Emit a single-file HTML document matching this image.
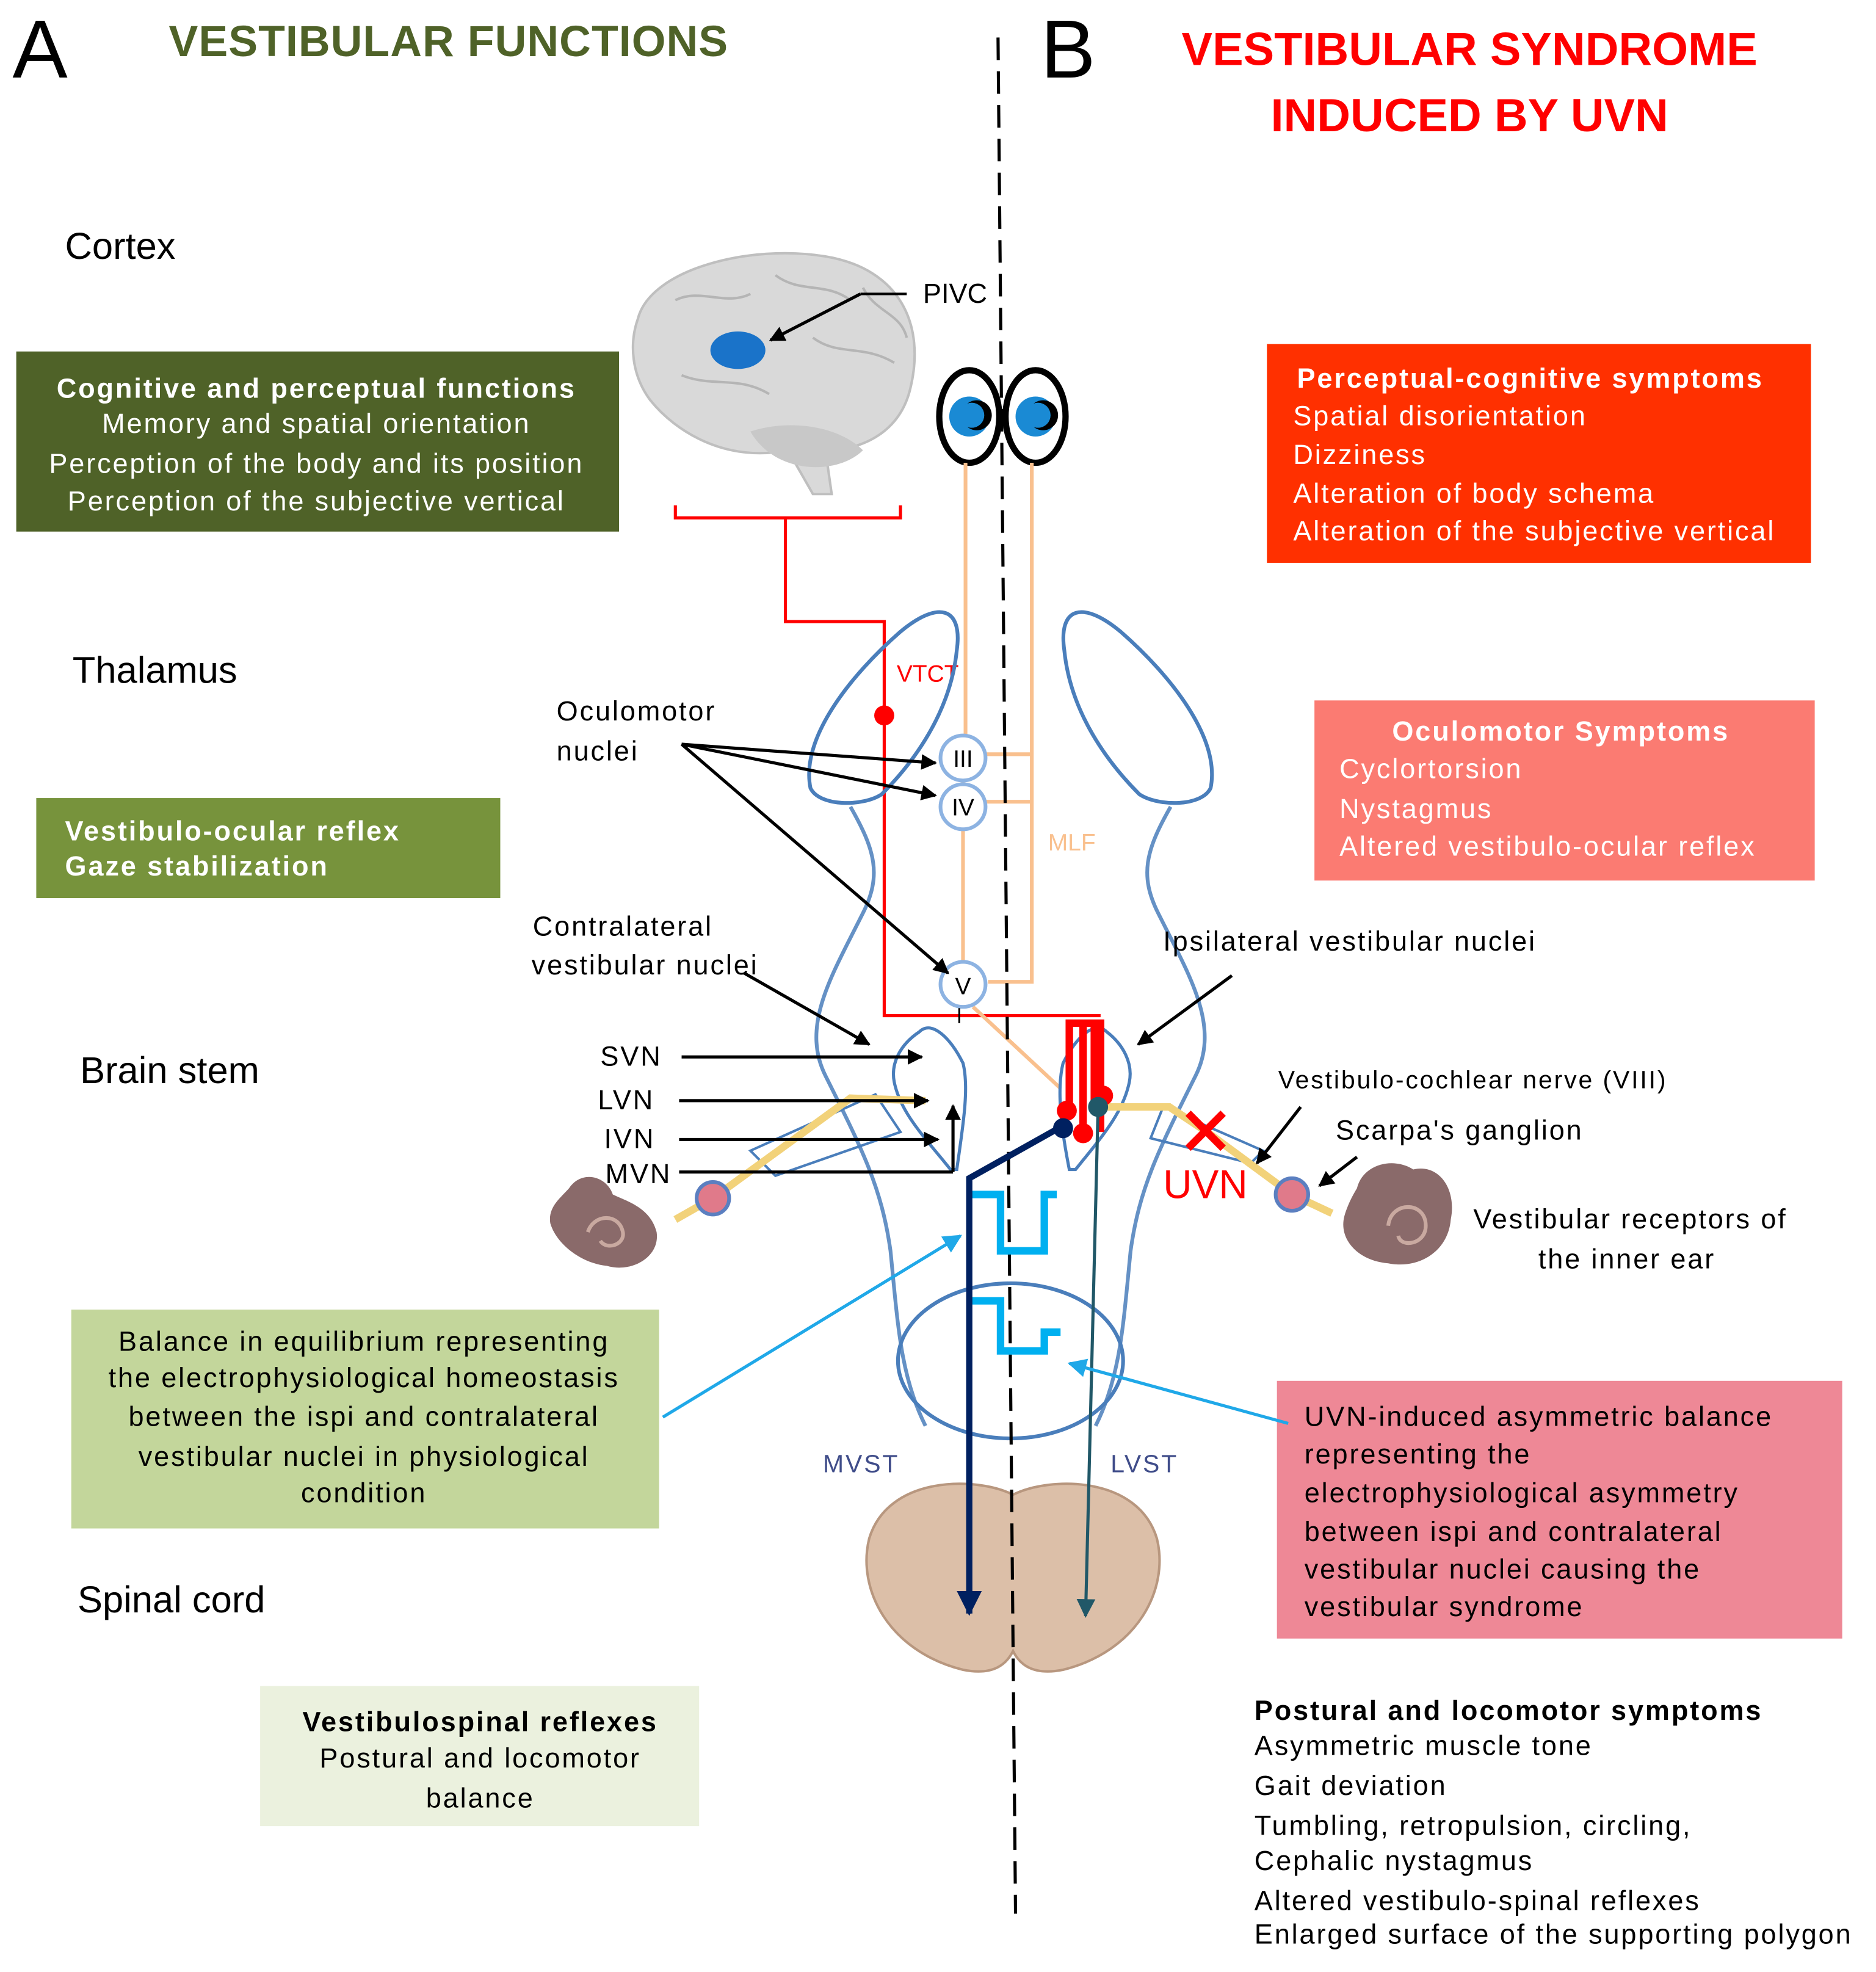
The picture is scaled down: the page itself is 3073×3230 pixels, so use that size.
<!DOCTYPE html>
<html><head><meta charset="utf-8"><style>
html,body{margin:0;padding:0;background:#fff;}
svg{display:block;}
text{font-family:"Liberation Sans",sans-serif;}
.t{letter-spacing:1.4px;}
</style></head><body>
<svg width="3073" height="3230" viewBox="0 0 1500 1576.6" preserveAspectRatio="none" xmlns="http://www.w3.org/2000/svg">
<defs>
<marker id="ab" viewBox="0 0 10 10" refX="9" refY="5" markerWidth="5" markerHeight="5" orient="auto"><path d="M0,0L10,5L0,10z" fill="#000"/></marker>
<marker id="abl" viewBox="0 0 10 10" refX="9" refY="5" markerWidth="6" markerHeight="6" orient="auto"><path d="M0,0L10,5L0,10z" fill="#1fa8e8"/></marker>
<marker id="an" viewBox="0 0 10 10" refX="9" refY="5" markerWidth="4" markerHeight="4" orient="auto"><path d="M0,0L10,5L0,10z" fill="#002060"/></marker>
<marker id="at" viewBox="0 0 10 10" refX="9" refY="5" markerWidth="6" markerHeight="6" orient="auto"><path d="M0,0L10,5L0,10z" fill="#215868"/></marker>
</defs>

<text x="10" y="62" font-size="66">A</text>
<text x="135" y="45" font-size="35" font-weight="bold" fill="#4f6228" letter-spacing="0.5">VESTIBULAR FUNCTIONS</text>
<text x="832" y="62" font-size="66">B</text>
<text x="1175" y="52" font-size="37" font-weight="bold" fill="#ff0000" text-anchor="middle">VESTIBULAR SYNDROME</text>
<text x="1175" y="105" font-size="37" font-weight="bold" fill="#ff0000" text-anchor="middle">INDUCED BY UVN</text>

<text x="52" y="207" font-size="30">Cortex</text>
<text x="58" y="546" font-size="30">Thalamus</text>
<text x="64" y="866" font-size="30">Brain stem</text>
<text x="62" y="1289" font-size="30">Spinal cord</text>

<rect x="13" y="281" width="482" height="144" fill="#4f6228"/>
<g fill="#fff" font-size="22" text-anchor="middle" class="t">
<text x="253" y="318" font-weight="bold">Cognitive and perceptual functions</text>
<text x="253" y="346">Memory and spatial orientation</text>
<text x="253" y="378">Perception of the body and its position</text>
<text x="253" y="408">Perception of the subjective vertical</text>
</g>
<rect x="29" y="638" width="371" height="80" fill="#77933c"/>
<text x="52" y="672" font-size="22" font-weight="bold" fill="#fff" class="t">Vestibulo-ocular reflex</text>
<text x="52" y="700" font-size="22" font-weight="bold" fill="#fff" class="t">Gaze stabilization</text>
<rect x="57" y="1047" width="470" height="175" fill="#c3d69b"/>
<g font-size="22" text-anchor="middle" class="t">
<text x="291" y="1080">Balance in equilibrium representing</text>
<text x="291" y="1109">the electrophysiological homeostasis</text>
<text x="291" y="1140">between the ispi and contralateral</text>
<text x="291" y="1172">vestibular nuclei in physiological</text>
<text x="291" y="1201">condition</text>
</g>
<rect x="208" y="1348" width="351" height="112" fill="#ebf1de"/>
<g font-size="22" text-anchor="middle" class="t">
<text x="384" y="1384" font-weight="bold">Vestibulospinal reflexes</text>
<text x="384" y="1413">Postural and locomotor</text>
<text x="384" y="1445">balance</text>
</g>

<rect x="1013" y="275" width="435" height="175" fill="#ff3000"/>
<g fill="#fff" font-size="22" class="t">
<text x="1037" y="310" font-weight="bold">Perceptual-cognitive symptoms</text>
<text x="1034" y="340">Spatial disorientation</text>
<text x="1034" y="371">Dizziness</text>
<text x="1034" y="402">Alteration of body schema</text>
<text x="1034" y="432">Alteration of the subjective vertical</text>
</g>
<rect x="1051" y="560" width="400" height="144" fill="#fb7b72"/>
<g fill="#fff" font-size="22" class="t">
<text x="1248" y="592" font-weight="bold" text-anchor="middle">Oculomotor Symptoms</text>
<text x="1071" y="622">Cyclortorsion</text>
<text x="1071" y="654">Nystagmus</text>
<text x="1071" y="684">Altered vestibulo-ocular reflex</text>
</g>
<rect x="1021" y="1104" width="452" height="206" fill="#ee8896"/>
<g font-size="22" class="t">
<text x="1043" y="1140">UVN-induced asymmetric balance</text>
<text x="1043" y="1170">representing the</text>
<text x="1043" y="1201">electrophysiological asymmetry</text>
<text x="1043" y="1232">between ispi and contralateral</text>
<text x="1043" y="1262">vestibular nuclei causing the</text>
<text x="1043" y="1292">vestibular syndrome</text>
</g>
<g font-size="22" class="t">
<text x="1003" y="1375" font-weight="bold">Postural and locomotor symptoms</text>
<text x="1003" y="1403">Asymmetric muscle tone</text>
<text x="1003" y="1435">Gait deviation</text>
<text x="1003" y="1467">Tumbling, retropulsion, circling,</text>
<text x="1003" y="1495">Cephalic nystagmus</text>
<text x="1003" y="1527">Altered vestibulo-spinal reflexes</text>
<text x="1003" y="1554">Enlarged surface of the supporting polygon</text>
</g>

<path d="M510,255 C520,215 600,195 660,205 C720,215 740,260 728,310 C720,345 690,360 660,360 L665,395 L650,395 L630,360 C580,370 540,345 520,320 C505,300 503,275 510,255z" fill="#d9d9d9" stroke="#bfbfbf" stroke-width="2"/>
<path d="M600,345 C630,335 670,340 690,360 C670,380 620,380 600,345z" fill="#c8c8c8"/>
<g fill="none" stroke="#b5b5b5" stroke-width="2">
<path d="M540,240 C560,230 580,245 600,235 M620,220 C640,235 660,225 680,240 M545,300 C570,310 590,300 615,315 M650,270 C670,285 690,275 715,290 M690,230 C700,250 720,250 725,270"/>
</g>
<ellipse cx="590" cy="280" rx="22" ry="15" fill="#1a73c9"/>
<line x1="725" y1="235" x2="688" y2="235" stroke="#000" stroke-width="2"/>
<line x1="688" y1="235" x2="616" y2="272" stroke="#000" stroke-width="2.5" marker-end="url(#ab)"/>
<text x="738" y="242" font-size="22">PIVC</text>

<path d="M540,404 V414 H720 V404 M628,414 V497 H707 V812 H880" fill="none" stroke="#ff0000" stroke-width="2.5"/>
<circle cx="707" cy="572" r="8" fill="#ff0000"/>
<text x="717" y="545" font-size="19" fill="#ff0000">VTCT</text>

<path d="M648,630 C640,590 680,540 720,505 C750,480 770,485 765,520 C760,570 730,610 705,635 C690,645 655,645 648,630z" fill="none" stroke="#4a7ebb" stroke-width="3"/>
<path d="M968,630 C976,590 936,540 896,505 C866,480 846,485 851,520 C856,570 886,610 911,635 C926,645 961,645 968,630z" fill="none" stroke="#4a7ebb" stroke-width="3"/>
<path d="M680,645 C700,680 705,700 690,730 C665,780 640,820 660,860 C690,920 705,950 712,1000 C718,1060 720,1100 740,1140" fill="none" stroke="#4a7ebb" stroke-width="3" opacity="0.85"/>
<path d="M936,645 C916,680 911,700 926,730 C951,780 976,820 956,860 C926,920 911,950 904,1000 C898,1060 896,1100 876,1140" fill="none" stroke="#4a7ebb" stroke-width="3" opacity="0.85"/>
<ellipse cx="808" cy="1088" rx="90" ry="62" fill="none" stroke="#4a7ebb" stroke-width="3"/>
<path d="M810,1195 C780,1180 710,1180 695,1230 C685,1270 710,1320 770,1335 C795,1340 805,1330 810,1320 C815,1330 825,1340 850,1335 C910,1320 935,1270 925,1230 C910,1180 840,1180 810,1195z" fill="#dcbfa8" stroke="#b8977f" stroke-width="2"/>

<g stroke="#000" stroke-width="5" fill="#fff">
<ellipse cx="775" cy="333" rx="24" ry="37"/>
<ellipse cx="828" cy="333" rx="24" ry="37"/>
</g>
<circle cx="775" cy="333" r="16" fill="#1a8ad4"/><circle cx="781" cy="332" r="12" fill="#000"/><circle cx="777" cy="332" r="10" fill="#1a8ad4"/>
<circle cx="828" cy="333" r="16" fill="#1a8ad4"/><circle cx="834" cy="332" r="12" fill="#000"/><circle cx="830" cy="332" r="10" fill="#1a8ad4"/>

<g stroke="#f9c08e" stroke-width="3" fill="none">
<path d="M772,370 V588 M770,625 V627 M770,664 V768"/>
<path d="M825,370 V785 H790 M825,603 H788 M825,641 H788"/>
<path d="M778,805 L850,872"/>
</g>
<text x="838" y="680" font-size="19" fill="#f9c08e">MLF</text>
<g fill="#fff" stroke="#8db3e2" stroke-width="3">
<circle cx="770" cy="606" r="18"/><circle cx="770" cy="645" r="18"/><circle cx="770" cy="787" r="18"/>
</g>
<g font-size="19" text-anchor="middle"><text x="770" y="613">III</text><text x="770" y="652">IV</text><text x="770" y="795">V</text></g>
<line x1="767" y1="806" x2="767" y2="818" stroke="#000" stroke-width="1.5"/>

<line x1="798" y1="30" x2="812" y2="1530" stroke="#000" stroke-width="2.5" stroke-dasharray="18,9"/>

<path d="M735,825 C745,815 760,830 770,850 C775,870 770,900 765,935 L760,935 C740,910 720,890 715,865 C712,850 720,835 735,825z" fill="#fff" stroke="#4a7ebb" stroke-width="2.5"/>
<path d="M885,825 C875,815 860,830 850,850 C845,870 848,900 855,935 L860,935 C880,910 898,890 903,865 C906,850 898,835 885,825z" fill="#fff" stroke="#4a7ebb" stroke-width="2.5"/>
<path d="M600,920 L700,875 L720,905 L620,940z" fill="none" stroke="#4a7ebb" stroke-width="2"/>
<path d="M1010,920 L930,885 L920,910 L1000,930z" fill="none" stroke="#4a7ebb" stroke-width="2"/>

<g fill="#8a6a6a">
<path d="M455,950 C465,935 485,940 490,955 C500,960 520,965 525,985 C528,1005 505,1018 485,1012 C465,1010 445,995 440,978 C438,965 448,958 455,950z"/>
<path d="M1085,950 C1090,930 1115,925 1130,935 C1150,930 1165,950 1160,975 C1158,1000 1135,1015 1110,1010 C1085,1008 1070,990 1075,972 C1078,962 1082,955 1085,950z"/>
</g>
<g fill="none" stroke="#c9a9a0" stroke-width="3">
<path d="M470,985 C475,970 495,970 498,985 C500,995 485,1000 480,992"/>
<path d="M1110,980 C1112,960 1140,960 1140,980 C1140,995 1120,998 1118,988"/>
</g>

<path d="M540,975 L570,958 L680,878 L740,880" fill="none" stroke="#f2d27a" stroke-width="6"/>
<path d="M880,885 L935,885 L965,905 L1033,955 L1065,970" fill="none" stroke="#f2d27a" stroke-width="6"/>
<circle cx="570" cy="958" r="13" fill="#e07a8a" stroke="#5b7fc0" stroke-width="3"/>
<circle cx="1033" cy="955" r="13" fill="#e07a8a" stroke="#5b7fc0" stroke-width="3"/>
<path d="M950,890 L978,918 M978,890 L950,918" stroke="#ff0000" stroke-width="6"/>
<text x="930" y="958" font-size="32" fill="#ff0000">UVN</text>

<g stroke="#000" stroke-width="2.5" fill="none" marker-end="url(#ab)">
<line x1="545" y1="845" x2="737" y2="845"/>
<line x1="543" y1="880" x2="742" y2="880"/>
<line x1="543" y1="911" x2="750" y2="911"/>
<line x1="762" y1="937" x2="762" y2="884"/>
<line x1="545" y1="595" x2="748" y2="610"/>
<line x1="545" y1="595" x2="748" y2="636"/>
<line x1="545" y1="595" x2="758" y2="778"/>
<line x1="595" y1="778" x2="695" y2="835"/>
<line x1="985" y1="780" x2="910" y2="835"/>
<line x1="1040" y1="885" x2="1005" y2="930"/>
<line x1="1085" y1="925" x2="1055" y2="948"/>
</g>
<line x1="543" y1="937" x2="762" y2="937" stroke="#000" stroke-width="2.5"/>
<g font-size="22" class="t">
<text x="480" y="852">SVN</text><text x="478" y="887">LVN</text><text x="483" y="918">IVN</text><text x="484" y="946">MVN</text>
<text x="445" y="576">Oculomotor</text><text x="445" y="608">nuclei</text>
<text x="426" y="748">Contralateral</text><text x="425" y="779">vestibular nuclei</text>
<text x="930" y="760">Ipsilateral vestibular nuclei</text>
<text x="1022" y="870" font-size="20">Vestibulo-cochlear nerve (VIII)</text>
<text x="1068" y="911">Scarpa's ganglion</text>
<text x="1178" y="982">Vestibular receptors of</text>
<text x="1230" y="1014">the inner ear</text>
</g>

<path d="M855,888 V818 H880 V905 M866,905 V820 M875,880 V818" fill="none" stroke="#ff0000" stroke-width="6"/>
<circle cx="853" cy="888" r="8" fill="#ff0000"/><circle cx="866" cy="906" r="8" fill="#ff0000"/><circle cx="882" cy="876" r="8" fill="#ff0000"/>

<g fill="none" stroke="#00b0f0" stroke-width="6">
<path d="M775,955 H800 V1000 H835 V955 H845"/>
<path d="M775,1040 H800 V1080 H835 V1065 H848"/>
</g>
<path d="M850,900 L775,942 V1290" fill="none" stroke="#002060" stroke-width="5" marker-end="url(#an)"/>
<circle cx="850" cy="902" r="8" fill="#002060"/>
<path d="M878,885 L868,1292" fill="none" stroke="#215868" stroke-width="2.5" marker-end="url(#at)"/>
<circle cx="878" cy="885" r="8" fill="#215868"/>
<text x="658" y="1177" font-size="20" fill="#404d8a" class="t">MVST</text>
<text x="888" y="1177" font-size="20" fill="#404d8a" class="t">LVST</text>

<line x1="530" y1="1133" x2="768" y2="988" stroke="#1fa8e8" stroke-width="2.5" marker-end="url(#abl)"/>
<line x1="1030" y1="1138" x2="855" y2="1090" stroke="#1fa8e8" stroke-width="2.5" marker-end="url(#abl)"/>
</svg>
</body></html>
